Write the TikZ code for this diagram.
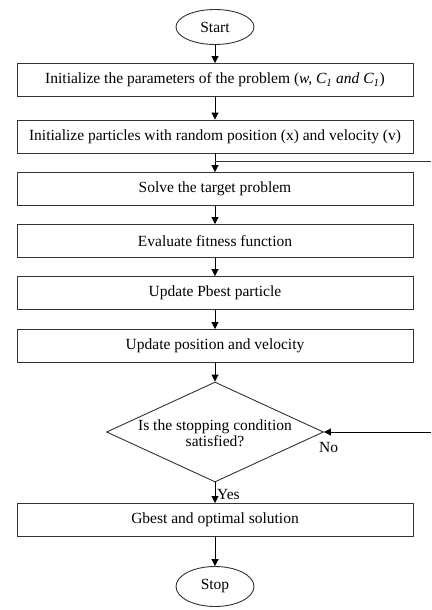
\documentclass[tikz,border=0pt]{standalone}
\usepackage{fontspec}
\setmainfont{Liberation Serif}
\usetikzlibrary{shapes.geometric,arrows.meta}
\begin{document}
\begin{tikzpicture}[x=1pt,y=-1pt,
  every node/.style={font=\fontsize{15.5}{16.5}\selectfont},
  stepbox/.style={draw=black!80,line width=0.9pt,minimum width=396pt,minimum height=33pt,inner sep=0pt},
  term/.style={draw=black!80,line width=0.9pt,ellipse,minimum width=78pt,inner sep=0pt},
  arr/.style={draw=black,line width=0.9pt,-{Triangle[length=7pt,width=7pt]}},
  ln/.style={draw=black!80,line width=0.9pt}]
\useasboundingbox (0,0) rectangle (431,610);
\node[term,minimum height=35pt] (start) at (215,27) {Start};
\node[stepbox] (b1) at (215,80) {Initialize the parameters of the problem (\textit{w, C\textsubscript{1} and C\textsubscript{1}})};
\node[stepbox] (b2) at (215,136.5) {Initialize particles with random position (x) and velocity (v)};
\node[stepbox] (b3) at (215,189) {Solve the target problem};
\node[stepbox] (b4) at (215,241) {Evaluate fitness function};
\node[stepbox] (b5) at (215,293) {Update Pbest particle};
\node[stepbox] (b6) at (215,346) {Update position and velocity};
\node[diamond,draw=black!80,line width=0.9pt,minimum width=217pt,minimum height=100pt,inner sep=0pt] (d) at (215,432) {};
\node[align=center,inner sep=0pt] (dt) at (215,433) {Is the stopping condition\\satisfied?};
\node[stepbox] (b7) at (215,520) {Gbest and optimal solution};
\node[term,minimum height=40pt] (stop) at (215,586.5) {Stop};
\draw[arr] (start) -- (b1);
\draw[arr] (b1) -- (b2);
\draw[arr] (b2) -- (b3);
\draw[arr] (b3) -- (b4);
\draw[arr] (b4) -- (b5);
\draw[arr] (b5) -- (b6);
\draw[arr] (b6) -- (d);
\draw[arr] (d) -- (b7);
\draw[arr] (b7) -- (stop);
\coordinate (fb) at (215,161);
\coordinate (fbE) at (431,161);
\draw[ln] (fb) -- (fbE);
\coordinate (noE) at (431,432);
\draw[arr] (noE) -- (d.east);
\node[anchor=west,inner sep=0pt] (no) at (319,447) {No};
\node[anchor=west,inner sep=0pt] (yes) at (217,494) {Yes};
\end{tikzpicture}
\end{document}
